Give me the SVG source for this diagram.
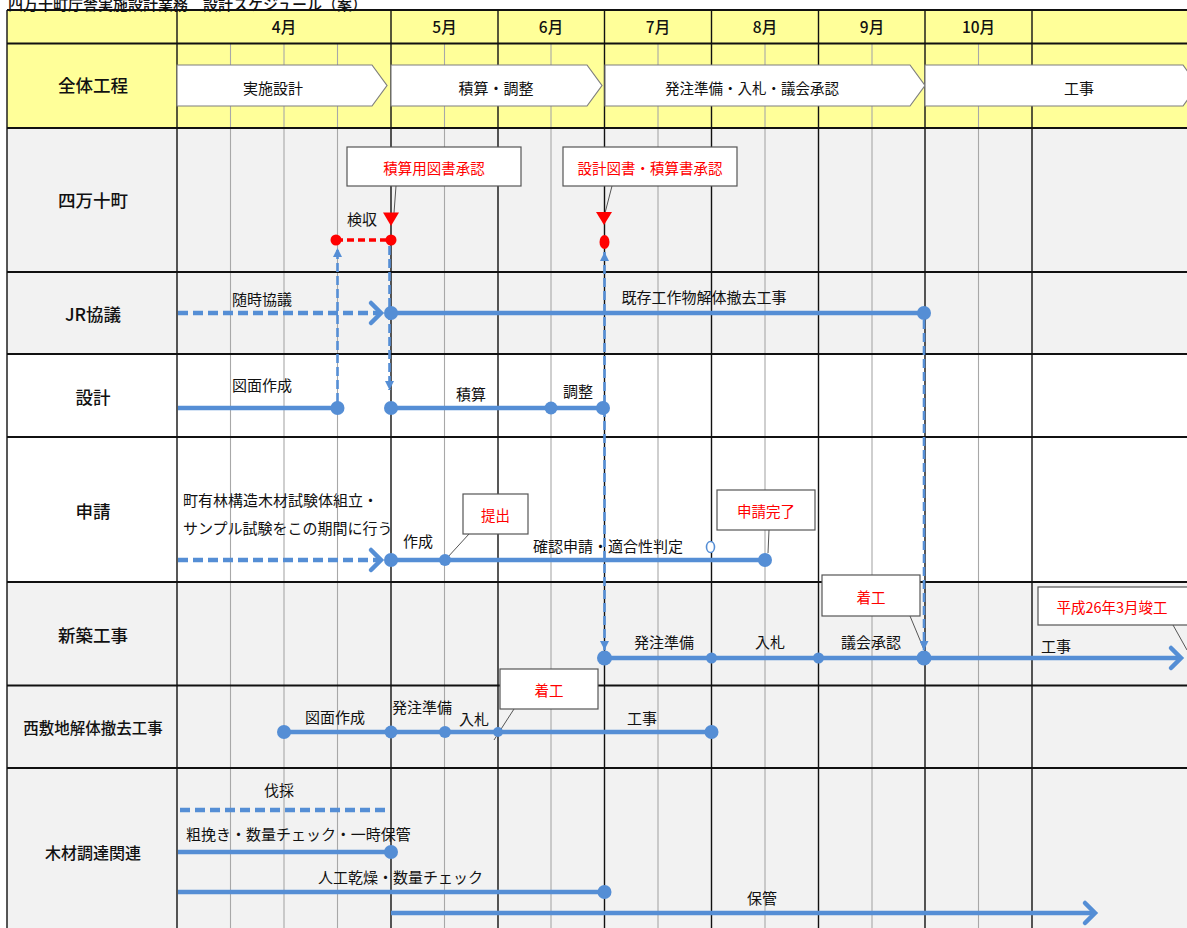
<svg xmlns="http://www.w3.org/2000/svg" width="1187" height="928" viewBox="0 0 1187 928">
<style>
text{font-family:"Noto Sans CJK JP","Liberation Sans",sans-serif;fill:#111;dominant-baseline:central}
.rowlbl{font-size:17.5px;text-anchor:middle;font-weight:500}
.mon{font-size:15.5px;text-anchor:middle;font-weight:500}
.lbl{font-size:15px;text-anchor:middle}
.lbls{font-size:15px;text-anchor:start}
.red{font-size:14.5px;text-anchor:middle;fill:#FF0000}
.mline{stroke:#111;stroke-width:1.4}
.sline{stroke:#a8a8a8;stroke-width:1.1}
.hline{stroke:#111;stroke-width:1.8}
.chev{fill:#fff;stroke:#7f7f7f;stroke-width:1.2}
.box{fill:#fff;stroke:#555;stroke-width:1.2}
.lead{stroke:#555;stroke-width:1;fill:none}
.bl{stroke:#558ED5;stroke-width:4.5;fill:none}
.bld{stroke:#558ED5;stroke-width:4.5;fill:none;stroke-dasharray:10 5}
.blv{stroke:#558ED5;stroke-width:2.6;fill:none;stroke-dasharray:9 4}
.dot{fill:#558ED5}
.rdot{fill:#FF0000}
</style>
<defs>
<marker id="chevHead" viewBox="-2 -2 14 24" refX="10" refY="10" markerWidth="14" markerHeight="24" markerUnits="userSpaceOnUse" orient="auto" overflow="visible">
<path d="M0,0 L10,10 L0,20" fill="none" stroke="#558ED5" stroke-width="4.5" stroke-linecap="round" stroke-linejoin="miter"/>
</marker>
<marker id="triHead" viewBox="0 0 10 10" refX="10" refY="5" markerWidth="10" markerHeight="9" markerUnits="userSpaceOnUse" orient="auto-start-reverse">
<path d="M0,0 L10,5 L0,10 z" fill="#558ED5"/>
</marker>
</defs>

<!-- backgrounds -->
<g id="background">
<rect x="0" y="0" width="1187" height="928" fill="#fff"/>
<rect x="7" y="10" width="1185" height="118" fill="#FFFF99"/>
<rect x="7" y="128" width="1185" height="226" fill="#F2F2F2"/>
<rect x="7" y="354" width="1185" height="228" fill="#fff"/>
<rect x="7" y="582" width="1185" height="350" fill="#F2F2F2"/>
</g>

<text x="8" y="3" style="font-size:15px;text-anchor:start;font-weight:500">四万十町庁舎実施設計業務　設計スケジュール（案）</text>

<!-- grid -->
<g id="grid">
<g class="sline">
<line x1="230.5" y1="43.5" x2="230.5" y2="930"/>
<line x1="284" y1="43.5" x2="284" y2="930"/>
<line x1="337.5" y1="43.5" x2="337.5" y2="930"/>
<line x1="444.5" y1="43.5" x2="444.5" y2="930"/>
<line x1="551" y1="43.5" x2="551" y2="930"/>
<line x1="658" y1="43.5" x2="658" y2="930"/>
<line x1="765" y1="43.5" x2="765" y2="930"/>
<line x1="872" y1="43.5" x2="872" y2="930"/>
<line x1="978.5" y1="43.5" x2="978.5" y2="930"/>
</g>
<g class="mline">
<line x1="7" y1="10" x2="7" y2="930"/>
<line x1="177" y1="10" x2="177" y2="930"/>
<line x1="391" y1="10" x2="391" y2="930"/>
<line x1="498" y1="10" x2="498" y2="930"/>
<line x1="604.5" y1="10" x2="604.5" y2="930"/>
<line x1="711.5" y1="10" x2="711.5" y2="930"/>
<line x1="818.5" y1="10" x2="818.5" y2="930"/>
<line x1="925" y1="10" x2="925" y2="930"/>
<line x1="1032" y1="10" x2="1032" y2="930"/>
</g>
<g class="hline">
<line x1="7" y1="10" x2="1190" y2="10"/>
<line x1="7" y1="43.5" x2="1190" y2="43.5"/>
<line x1="7" y1="128" x2="1190" y2="128"/>
<line x1="7" y1="272" x2="1190" y2="272"/>
<line x1="7" y1="354" x2="1190" y2="354"/>
<line x1="7" y1="437" x2="1190" y2="437"/>
<line x1="7" y1="582" x2="1190" y2="582"/>
<line x1="7" y1="685.5" x2="1190" y2="685.5"/>
<line x1="7" y1="768" x2="1190" y2="768"/>
</g>
<text class="mon" x="284" y="26">4月</text>
<text class="mon" x="444.5" y="26">5月</text>
<text class="mon" x="551" y="26">6月</text>
<text class="mon" x="658" y="26">7月</text>
<text class="mon" x="765" y="26">8月</text>
<text class="mon" x="872" y="26">9月</text>
<text class="mon" x="978.5" y="26">10月</text>
</g>

<!-- row headers -->
<g id="row-zentai"><text class="rowlbl" x="93" y="84">全体工程</text></g>
<g id="row-shimanto"><text class="rowlbl" x="93" y="199">四万十町</text></g>
<g id="row-jr"><text class="rowlbl" x="93" y="313">JR協議</text></g>
<g id="row-sekkei"><text class="rowlbl" x="93" y="396">設計</text></g>
<g id="row-shinsei"><text class="rowlbl" x="93" y="510">申請</text></g>
<g id="row-shinchiku"><text class="rowlbl" x="93" y="634">新築工事</text></g>
<g id="row-nishi"><text class="rowlbl" x="93" y="727" style="font-size:15.5px">西敷地解体撤去工事</text></g>
<g id="row-mokuzai"><text class="rowlbl" x="93" y="852" style="font-size:16px">木材調達関連</text></g>

<!-- phase chevrons -->
<g id="phase-jisshi"><polygon class="chev" points="177,65 372,65 387,85.5 372,106 177,106"/><text class="lbl" x="273" y="87">実施設計</text></g>
<g id="phase-sekisan"><polygon class="chev" points="391,65 587,65 602,85.5 587,106 391,106"/><text class="lbl" x="496" y="87">積算・調整</text></g>
<g id="phase-hacchu"><polygon class="chev" points="605,65 910,65 925,85.5 910,106 605,106"/><text class="lbl" x="752" y="87" style="font-size:14.5px">発注準備・入札・議会承認</text></g>
<g id="phase-koji"><polygon class="chev" points="925,65 1183,65 1198,85.5 1183,106 925,106"/><text class="lbl" x="1079" y="87">工事</text></g>

<!-- callouts -->
<g id="callout-sekisanyo"><rect class="box" x="347" y="147" width="174" height="39"/><text class="red" x="434" y="167">積算用図書承認</text></g>
<g id="callout-sekkeitosho"><rect class="box" x="563" y="147" width="174" height="39"/><text class="red" x="650" y="167">設計図書・積算書承認</text></g>
<g id="callout-teishutsu"><rect class="box" x="463" y="494" width="65" height="40"/><text class="red" x="495.5" y="514">提出</text></g>
<g id="callout-shinseikanryo"><rect class="box" x="717" y="490" width="98" height="40"/><text class="red" x="766" y="510">申請完了</text></g>
<g id="callout-chakko1"><rect class="box" x="822" y="575" width="98" height="41"/><text class="red" x="871" y="596">着工</text></g>
<g id="callout-shunko"><rect class="box" x="1038" y="587" width="152" height="38"/><text class="red" x="1112" y="606">平成26年3月竣工</text></g>
<g id="callout-chakko2"><rect class="box" x="500" y="669" width="98" height="40"/><text class="red" x="549" y="689">着工</text></g>

<!-- connectors -->
<g id="connectors">
<line class="lead" x1="396" y1="186" x2="394" y2="213"/>
<line class="lead" x1="612" y1="186" x2="605" y2="213"/>
<line class="lead" x1="469" y1="534" x2="447" y2="558"/>
<line class="lead" x1="769" y1="530" x2="768" y2="553"/>
<line class="lead" x1="910" y1="616" x2="925" y2="652"/>
<line class="lead" x1="1173" y1="625" x2="1187" y2="650"/>
<line class="lead" x1="514" y1="709" x2="494" y2="740"/>

<polygon class="rdot" points="383,212.5 399,212.5 391,226"/>
<polygon class="rdot" points="596,212 612,212 604,225"/>
<line x1="336" y1="240" x2="391" y2="240" stroke="#FF0000" stroke-width="3.5" stroke-dasharray="7 4"/>
<circle class="rdot" cx="336" cy="240" r="5.5"/>
<circle class="rdot" cx="391" cy="240" r="5.5"/>
<text class="lbl" x="362" y="218">検収</text>
<ellipse class="rdot" cx="604.5" cy="242" rx="5" ry="7"/>

<line class="blv" x1="337.5" y1="402" x2="337.5" y2="248" marker-end="url(#triHead)"/>
<line class="blv" x1="389.5" y1="246" x2="389.5" y2="390" marker-end="url(#triHead)"/>
<line class="blv" x1="604.5" y1="252" x2="604.5" y2="650" marker-start="url(#triHead)" marker-end="url(#triHead)"/>
<line class="blv" x1="924" y1="320" x2="924" y2="650" marker-end="url(#triHead)"/>

<line class="bld" x1="178" y1="313" x2="381" y2="313" marker-end="url(#chevHead)"/>
<line class="bl" x1="391" y1="313" x2="924" y2="313"/>
<circle class="dot" cx="391" cy="313" r="7"/>
<circle class="dot" cx="924" cy="313" r="7"/>
<text class="lbl" x="262" y="298">随時協議</text>
<text class="lbl" x="704" y="296">既存工作物解体撤去工事</text>

<line class="bl" x1="178" y1="408" x2="337.5" y2="408"/>
<circle class="dot" cx="337.5" cy="408" r="7"/>
<line class="bl" x1="391" y1="408" x2="604.5" y2="408"/>
<circle class="dot" cx="391" cy="408" r="7"/>
<circle class="dot" cx="551" cy="408" r="6.5"/>
<circle class="dot" cx="603" cy="408" r="7"/>
<text class="lbl" x="262" y="384">図面作成</text>
<text class="lbl" x="471" y="393">積算</text>
<text class="lbl" x="578" y="390">調整</text>

<line class="bld" x1="178" y1="560" x2="381" y2="560" marker-end="url(#chevHead)"/>
<line class="bl" x1="391" y1="560" x2="765" y2="560"/>
<circle class="dot" cx="391" cy="560" r="7"/>
<circle class="dot" cx="445" cy="560" r="6"/>
<circle class="dot" cx="765" cy="560" r="7"/>
<ellipse cx="710.5" cy="547" rx="4" ry="5.5" fill="#fff" stroke="#558ED5" stroke-width="1.6"/>
<text class="lbls" x="183" y="499">町有林構造木材試験体組立・</text>
<text class="lbls" x="183" y="527">サンプル試験をこの期間に行う</text>
<text class="lbl" x="418" y="540">作成</text>
<text class="lbl" x="608" y="545">確認申請・適合性判定</text>

<line class="bl" x1="604.5" y1="658" x2="1181" y2="658" marker-end="url(#chevHead)"/>
<circle class="dot" cx="604.5" cy="658" r="7.5"/>
<circle class="dot" cx="711.5" cy="658" r="5.5"/>
<circle class="dot" cx="818.5" cy="658" r="5.5"/>
<circle class="dot" cx="924" cy="658" r="7.5"/>
<text class="lbl" x="664" y="641">発注準備</text>
<text class="lbl" x="770" y="641">入札</text>
<text class="lbl" x="871" y="641">議会承認</text>
<text class="lbl" x="1056" y="645">工事</text>

<line class="bl" x1="284" y1="732" x2="711.5" y2="732"/>
<circle class="dot" cx="284" cy="732" r="7"/>
<circle class="dot" cx="391" cy="732" r="6.5"/>
<circle class="dot" cx="445" cy="732" r="6"/>
<circle class="dot" cx="498" cy="732" r="5"/>
<circle class="dot" cx="711.5" cy="732" r="7"/>
<text class="lbl" x="335" y="716">図面作成</text>
<text class="lbl" x="422" y="706">発注準備</text>
<text class="lbl" x="474" y="718">入札</text>
<text class="lbl" x="642" y="717">工事</text>

<line class="bld" x1="180" y1="810" x2="389" y2="810"/>
<text class="lbl" x="279" y="789">伐採</text>
<line class="bl" x1="178" y1="852" x2="391" y2="852"/>
<circle class="dot" cx="391" cy="852" r="7"/>
<text class="lbls" x="186" y="833">粗挽き・数量チェック・一時保管</text>
<line class="bl" x1="178" y1="892" x2="604.5" y2="892"/>
<circle class="dot" cx="604.5" cy="892" r="7"/>
<text class="lbls" x="318" y="876">人工乾燥・数量チェック</text>
<line class="bl" x1="391" y1="913" x2="1095" y2="913" marker-end="url(#chevHead)"/>
<text class="lbl" x="762" y="897">保管</text>
</g>
</svg>
